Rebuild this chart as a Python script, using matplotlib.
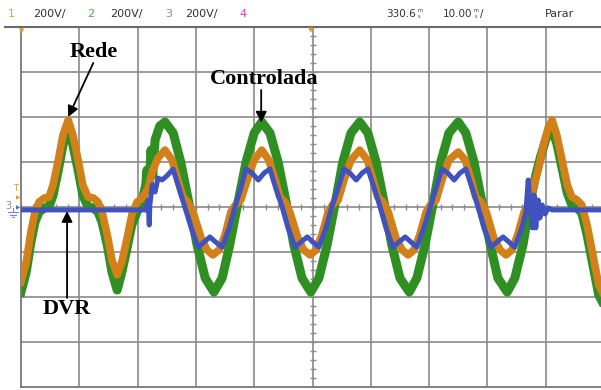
from matplotlib import pyplot as plt

# time in ms (10 ms/div), voltage in V (200 V/div)
t_rede = [0.0, 0.9, 1.7, 2.4, 3.1, 4.0, 4.8, 5.5, 6.4, 7.2, 8.1, 8.9, 9.8, 10.6, 11.5, 12.4,
          13.2, 13.9, 14.8, 15.6, 16.5, 17.3, 18.2, 19.0, 19.9, 20.8, 21.8, 22.5, 23.5,
          24.7, 25.9, 26.9, 27.8, 28.6, 29.5, 30.9, 31.9, 32.9, 34.0, 35.0, 36.0, 36.9, 37.7, 38.8, 40.0,
          41.3, 42.5, 43.6, 44.4, 45.3, 46.1, 47.5, 48.5, 49.6, 50.6, 51.6, 52.7, 53.5, 54.4, 55.4, 56.6,
          58.1, 59.4, 60.4, 61.2, 62.1, 63.0, 64.3, 65.4, 66.4, 67.4, 68.4, 69.5, 70.3, 71.2, 72.2, 73.4,
          75.0, 76.2, 77.2, 78.0, 78.9, 79.8, 81.1, 82.2, 83.2, 84.2, 85.2, 86.3, 87.1,
          87.8, 88.7, 89.5, 90.4, 91.1, 91.9, 92.8, 93.7, 94.5, 95.4, 96.2, 97.1, 98.1, 99.1, 100.5]
v_rede = [-333, -244, -111, -22, 22, 40, 44, 98, 209, 320, 387, 320, 209, 98, 44, 40,
          22, -22, -124, -236, -302, -244, -138, -36, 22, 40, 84, 156, 218,
          253, 209, 120, 44, 22, -22, -138, -191, -213, -191, -124, -22, 13, 31, 120, 209,
          253, 209, 120, 44, 22, -22, -138, -191, -213, -191, -124, -22, 13, 31, 120, 209,
          253, 209, 120, 44, 22, -22, -138, -191, -213, -191, -124, -22, 13, 31, 120, 209,
          244, 209, 120, 44, 22, -22, -138, -191, -213, -191, -124, -22, 13,
          76, 164, 262, 351, 387, 320, 209, 98, 44, 31, 9, -80, -213, -347, -420]

t_carga = [0.0, 0.9, 1.7, 2.4, 3.1, 4.0, 4.8, 5.5, 6.4, 7.2, 8.1, 8.9, 9.8, 10.6, 11.5, 12.4,
           13.2, 13.9, 14.8, 15.6, 16.5, 17.3, 18.2, 19.0, 19.9, 20.8,
           21.4, 21.6, 22.0, 22.3, 22.6, 23.0, 23.8,
           24.7, 26.1, 27.4, 28.8, 30.2, 31.6, 33.1, 34.5, 35.8, 37.2, 38.6, 40.0,
           41.3, 42.7, 44.1, 45.5, 46.8, 48.2, 49.7, 51.1, 52.5, 53.9, 55.2, 56.6,
           58.1, 59.5, 60.9, 62.3, 63.6, 65.0, 66.6, 67.9, 69.3, 70.7, 72.0, 73.4,
           75.0, 76.3, 77.7, 79.1, 80.5, 81.8, 83.4, 84.7, 86.1, 87.3,
           88.3, 89.2, 90.1, 91.1, 91.9, 92.8, 93.7, 94.5, 95.4, 96.2, 97.1, 98.1, 99.1, 100.5]
v_carga = [-378, -289, -156, -67, -22, -4, 0, 53, 164, 276, 351, 276, 164, 53, 0, -4,
           -22, -67, -169, -289, -369, -289, -182, -80, -22, 31,
           98, 164, 84, 253, 142, 298, 360,
           378, 329, 200, 18, -169, -316, -378, -316, -169, 18, 200, 329,
           378, 329, 200, 18, -169, -316, -378, -316, -169, 18, 200, 329,
           378, 329, 200, 18, -169, -316, -378, -316, -169, 18, 200, 329,
           378, 329, 200, 18, -169, -316, -378, -316, -169, 18,
           142, 231, 307, 342, 284, 173, 62, 9, -4, -27, -124, -258, -391, -460]

t_dvr = [0.0, 20.4, 21.4, 21.8, 22.0, 22.1, 22.5, 23.0, 23.5, 24.2, 25.0, 26.1,
         27.1, 28.1, 29.2, 30.4, 31.4, 32.4, 33.4, 34.5, 35.7, 36.7, 37.7,
         38.6, 39.6, 40.7, 41.7, 42.7, 43.7, 44.8, 45.8, 47.0, 48.0, 49.1, 50.1, 51.1, 52.3, 53.3, 54.4,
         55.4, 56.4, 57.5, 58.5, 59.5, 60.6, 61.6, 62.6, 63.8, 64.8, 65.9, 66.9, 67.9, 69.1, 70.2, 71.2,
         72.2, 73.2, 74.3, 75.3, 76.3, 77.4, 78.4, 79.4, 80.6, 81.6, 82.7, 83.7, 84.7, 85.9,
         86.6, 87.0, 87.3, 87.7, 88.0, 88.3, 88.7, 89.0, 89.4, 89.9, 90.4, 91.1, 100.5]
v_dvr = [-13, -13, -13, 31, -80, 9, 98, 67, 129, 120, 138, 169,
         84, 0, -93, -178, -156, -133, -156, -178, -93, 0, 84,
         169, 151, 120, 151, 169, 84, 0, -93, -178, -156, -133, -156, -178, -93, 0, 84,
         169, 151, 120, 151, 169, 84, 0, -93, -178, -156, -133, -156, -178, -93, 0, 84,
         169, 151, 120, 151, 169, 84, 0, -93, -178, -156, -133, -156, -178, -93,
         -22, 120, 9, -93, 53, -93, 31, -49, 9, -31, -4, -13, -13]

header = [('1', '#E89B30'), ('200V/', '#333333'), ('2', '#45A845'), ('200V/', '#333333'),
          ('3', '#7986CB'), ('200V/', '#333333'), ('4', '#D83FA0')]
header_x = [8, 33, 87, 110, 165, 185, 239]

fig = plt.figure(figsize=(6.01, 3.9), dpi=100)
W, H = 601.0, 390.0
ax = fig.add_axes([21 / W, 3 / H, 583 / W, 360 / H])
ax.set_xlim(0, 100)
ax.set_ylim(-800, 800)

for x in range(10, 100, 10):
    ax.axvline(x, color='#8a8a8a', lw=1.2, zorder=1)
for y in range(-600, 800, 200):
    ax.axhline(y, color='#8a8a8a', lw=1.2, zorder=1)
ax.plot([50] * 41, range(-800, 801, 40), ls='none', marker='_', ms=5, mew=1, color='#8a8a8a', zorder=1)
ax.plot(range(0, 101, 2), [0] * 51, ls='none', marker='|', ms=5, mew=1, color='#8a8a8a', zorder=1)

ax.plot(t_carga, v_carga, color='#2F8F22', lw=6.5, solid_joinstyle='round', zorder=2)
ax.plot(t_rede, v_rede, color='#D2811A', lw=5.5, solid_joinstyle='round', zorder=3)
ax.plot(t_dvr, v_dvr, color='#3F52BE', lw=3.6, solid_joinstyle='round', zorder=4)

ax.set_xticks([])
ax.set_yticks([])
for s in ['top', 'right']:
    ax.spines[s].set_visible(False)
for s in ['left', 'bottom']:
    ax.spines[s].set_color('#777777')
    ax.spines[s].set_linewidth(1.3)

lbl = dict(family='Liberation Serif', weight='bold', fontsize=16, color='black',
           ha='center', va='center', zorder=6)
arr = dict(arrowstyle='-|>', color='black', lw=1.3, mutation_scale=16, shrinkA=0, shrinkB=0)
ax.text(12.5, 689, 'Rede', **lbl)
ax.annotate('', xy=(8.1, 400), xytext=(12.4, 640), arrowprops=arr, zorder=6)
ax.text(41.7, 569, 'Controlada', **lbl)
ax.annotate('', xy=(41.2, 375), xytext=(41.2, 520), arrowprops=arr, zorder=6)
ax.text(7.9, -453, 'DVR', **lbl)
ax.annotate('', xy=(7.9, -18), xytext=(7.9, -404), arrowprops=arr, zorder=6)

# header bar
fig.add_artist(plt.Line2D([5 / W, 1], [1 - 27 / H, 1 - 27 / H], color='#6a6a6a', lw=1.5))
for (s, c), x in zip(header, header_x):
    fig.text(x / W, 1 - 14 / H, s, color=c, fontsize=8, va='center', ha='left')
fig.text(386 / W, 1 - 14 / H, '330.6', color='#333333', fontsize=7.5, va='center')
fig.text(417 / W, 1 - 10.5 / H, 'm', color='#333333', fontsize=3.5, va='center')
fig.text(418 / W, 1 - 17 / H, 's', color='#333333', fontsize=3.5, va='center')
fig.text(443 / W, 1 - 14 / H, '10.00', color='#333333', fontsize=7.5, va='center')
fig.text(474 / W, 1 - 10.5 / H, 'm', color='#333333', fontsize=3.5, va='center')
fig.text(475 / W, 1 - 17 / H, 's', color='#333333', fontsize=3.5, va='center')
fig.text(480 / W, 1 - 14 / H, '/', color='#333333', fontsize=7.5, va='center')
fig.text(545 / W, 1 - 14 / H, 'Parar', color='#333333', fontsize=8, va='center')

# scope markers
fig.text(22 / W, 1 - 31 / H, '\u25BC', color='#E89B30', fontsize=5, ha='center', va='center')
fig.text(311 / W, 1 - 30 / H, '\u25BC', color='#E89B30', fontsize=5, ha='center', va='center')
fig.text(16 / W, 1 - 188 / H, 'T', color='#E89B30', fontsize=6, ha='center', va='center')
fig.text(18 / W, 1 - 198 / H, '\u25B6', color='#E89B30', fontsize=4, ha='center', va='center')
fig.text(8 / W, 1 - 206 / H, '3', color='#7986CB', fontsize=7, ha='center', va='center')
fig.text(18 / W, 1 - 208 / H, '\u25B6', color='#5C6BC0', fontsize=4, ha='center', va='center')
# ground symbol drawn as lines
gx, gy = 13, 212
fig.add_artist(plt.Line2D([gx / W, gx / W], [1 - (gy - 4) / H, 1 - gy / H], color='#7986CB', lw=0.8))
fig.add_artist(plt.Line2D([8 / W, 18 / W], [1 - gy / H, 1 - gy / H], color='#7986CB', lw=0.8))
fig.add_artist(plt.Line2D([10 / W, 16 / W], [1 - (gy + 2.5) / H, 1 - (gy + 2.5) / H], color='#7986CB', lw=0.8))
fig.add_artist(plt.Line2D([12 / W, 14 / W], [1 - (gy + 5) / H, 1 - (gy + 5) / H], color='#7986CB', lw=0.8))

fig.savefig('out.png', dpi=100)
